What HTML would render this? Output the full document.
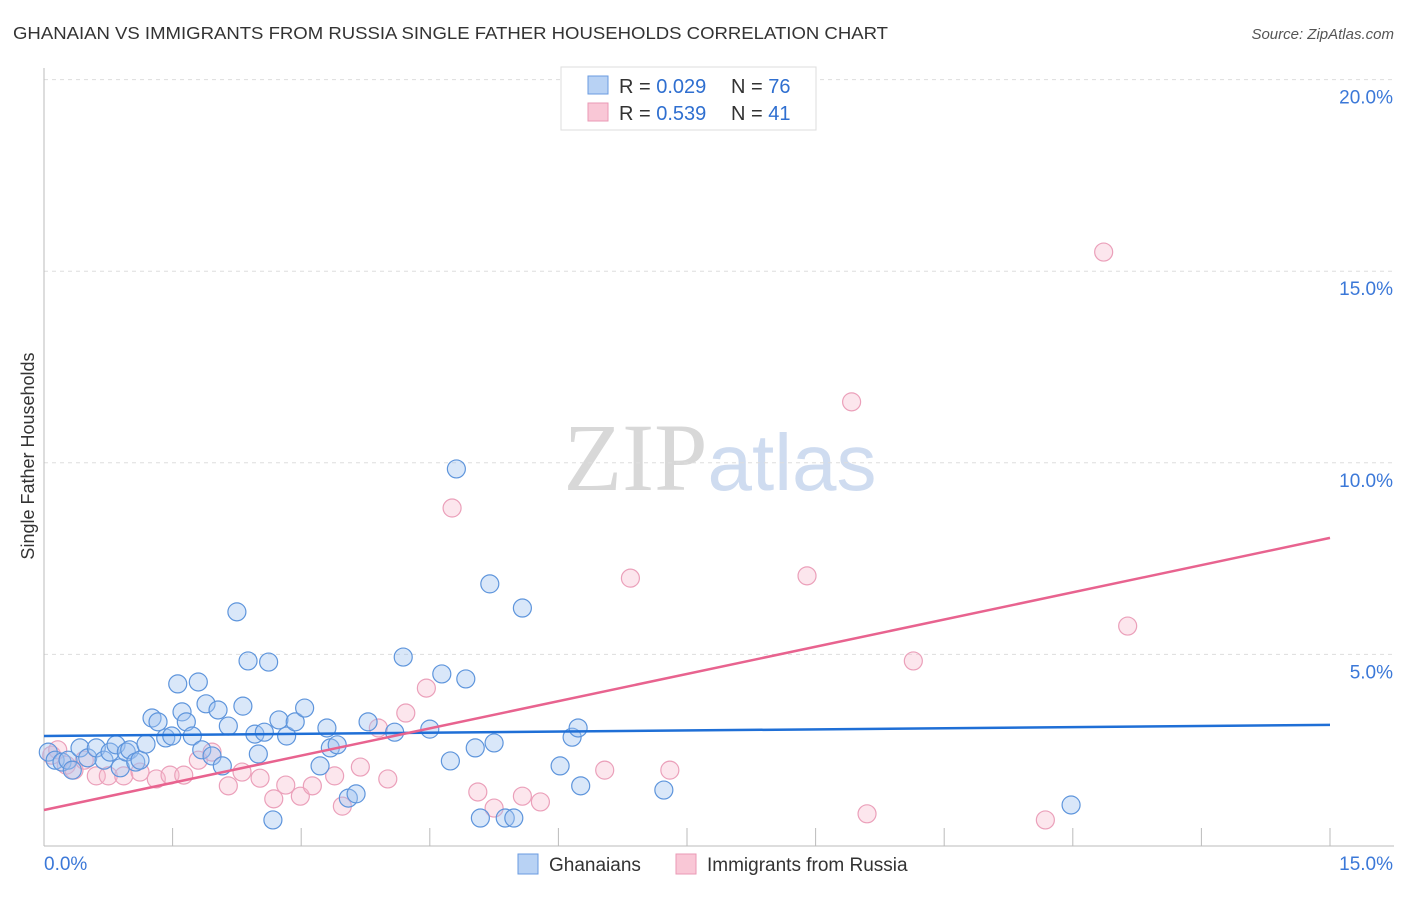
<!DOCTYPE html>
<html><head><meta charset="utf-8"><style>
body{margin:0;background:#fff;font-family:"Liberation Sans",sans-serif}
svg text{font-family:"Liberation Sans",sans-serif}
</style></head><body>
<svg id="chart" width="1406" height="892" xmlns="http://www.w3.org/2000/svg">
<text x="13" y="39" font-size="17.5" fill="#333" textLength="875" lengthAdjust="spacingAndGlyphs">GHANAIAN VS IMMIGRANTS FROM RUSSIA SINGLE FATHER HOUSEHOLDS CORRELATION CHART</text>
<text x="1394" y="39" font-size="15" fill="#555" text-anchor="end" font-style="italic">Source: ZipAtlas.com</text>
<text x="720" y="490" font-size="96" text-anchor="middle" fill="#ddd"><tspan font-family="Liberation Serif" fill="#d8d8d8">ZIP</tspan><tspan fill="#cfdcf0" font-size="80">atlas</tspan></text>
<text transform="translate(34,456) rotate(-90)" font-size="18" fill="#333" text-anchor="middle">Single Father Households</text>
<g id="grid"></g><g id="axes"></g><g id="pts"></g><g id="lines"></g>
<g>
<rect x="561" y="67" width="255" height="63" fill="#fff" stroke="#ddd"/>
<rect x="588" y="76" width="20" height="18" fill="#b8d2f4" stroke="#6a9be0"/>
<rect x="588" y="103" width="20" height="18" fill="#f9c7d6" stroke="#ea9ab5"/>
<text x="619" y="93" font-size="20" fill="#333">R = <tspan fill="#2f6fd0">0.029</tspan></text>
<text x="731" y="93" font-size="20" fill="#333">N = <tspan fill="#2f6fd0">76</tspan></text>
<text x="619" y="120" font-size="20" fill="#333">R = <tspan fill="#2f6fd0">0.539</tspan></text>
<text x="731" y="120" font-size="20" fill="#333">N = <tspan fill="#2f6fd0">41</tspan></text>
</g>
<g>
<rect x="518" y="854" width="20" height="20" fill="#b8d2f4" stroke="#6a9be0"/>
<text x="549" y="871" font-size="19" fill="#333">Ghanaians</text>
<rect x="676" y="854" width="20" height="20" fill="#f9c7d6" stroke="#ea9ab5"/>
<text x="707" y="871" font-size="19" fill="#333">Immigrants from Russia</text>
</g>
</svg>
<script>
const xTicks=[0,15];
const yTicks=[5,10,15,20];
const blueX=[0.05,0.13,0.21,0.28,0.33,0.42,0.51,0.61,0.70,0.77,0.84,0.89,0.96,1.00,1.07,1.12,1.19,1.26,1.33,1.42,1.49,1.56,1.61,1.66,1.73,1.80,1.84,1.89,1.96,2.03,2.08,2.15,2.25,2.32,2.38,2.46,2.50,2.57,2.62,2.67,2.74,2.83,2.93,3.04,3.22,3.30,3.34,3.42,3.55,3.64,3.78,4.09,4.19,4.50,4.64,4.74,4.81,4.92,5.03,5.09,5.20,5.25,5.38,5.48,5.58,6.02,6.16,6.23,6.26,7.23,11.98];
const blueY=[2.45,2.24,2.19,2.24,1.98,2.56,2.30,2.56,2.24,2.45,2.64,2.04,2.45,2.51,2.19,2.24,2.66,3.34,3.24,2.82,2.87,4.23,3.50,3.24,2.87,4.28,2.51,3.71,2.35,3.55,2.09,3.13,6.11,3.65,4.83,2.92,2.40,2.97,4.80,0.68,3.29,2.87,3.24,3.60,2.09,3.08,2.56,2.64,1.25,1.36,3.24,2.97,4.93,3.05,4.49,2.22,9.84,4.36,2.56,0.73,6.84,2.69,0.73,0.73,6.21,2.09,2.84,3.08,1.57,1.46,1.07];
const pinkX=[0.09,0.16,0.26,0.35,0.47,0.61,0.75,0.93,1.12,1.31,1.47,1.63,1.80,1.96,2.15,2.31,2.52,2.68,2.82,2.99,3.13,3.39,3.48,3.69,3.90,4.01,4.22,4.46,4.76,5.06,5.25,5.58,5.79,6.54,6.84,7.30,8.90,9.42,9.60,10.14,11.68,12.36,12.64];
const pinkY=[2.37,2.51,2.11,1.98,2.24,1.83,1.83,1.83,1.93,1.75,1.85,1.85,2.24,2.45,1.57,1.93,1.77,1.23,1.59,1.30,1.57,1.83,1.04,2.06,3.08,1.75,3.47,4.12,8.82,1.41,0.99,1.30,1.15,1.98,6.99,1.98,7.05,11.59,0.84,4.83,0.68,15.50,5.74];
const blueTrend=[2.87,3.16];
const pinkTrend=[0.94,8.04];
const NS="http://www.w3.org/2000/svg";
const X=v=>44+v/15*1286;
const Y=v=>846-v/5*191.6;
function mk(tag,attrs,parent){const e=document.createElementNS(NS,tag);for(const k in attrs)e.setAttribute(k,attrs[k]);document.getElementById(parent).appendChild(e);return e;}
yTicks.forEach(t=>{
 const l=mk('line',{x1:44,x2:1394,y1:Y(t),y2:Y(t),stroke:'#ddd','stroke-dasharray':'4,4'},'grid');
 
 
 const tx=mk('text',{x:1393,y:Y(t)+24,'font-size':19,fill:'#3b78d8','text-anchor':'end'},'grid');
 tx.textContent=t.toFixed(1)+'%';
 
 
});
const ax=mk('line',{x1:44,x2:44,y1:68,y2:846,stroke:'#bbb'},'axes');


const bx=mk('line',{x1:44,x2:1394,y1:846,y2:846,stroke:'#bbb'},'axes');


for(let i=0;i<=10;i++){const t=mk('line',{x1:X(i*1.5),x2:X(i*1.5),y1:828,y2:846,stroke:'#bbb'},'axes');
 
 }
xTicks.forEach((t,i)=>{const tx=mk('text',{x:i?1393:44,y:870,'font-size':19,fill:'#3b78d8','text-anchor':i?'end':'start'},'axes');
 tx.textContent=t.toFixed(1)+'%';
 
 });
pinkX.forEach((v,i)=>{const c=mk('circle',{cx:X(v),cy:Y(pinkY[i]),r:9,fill:'rgba(246,182,202,0.35)',stroke:'#eba0ba','stroke-width':1.2},'pts');
 
 });
blueX.forEach((v,i)=>{const c=mk('circle',{cx:X(v),cy:Y(blueY[i]),r:9,fill:'rgba(160,196,240,0.4)',stroke:'#5e95dc','stroke-width':1.2},'pts');
 
 });
const bl=mk('line',{x1:X(0),x2:X(15),y1:Y(blueTrend[0]),y2:Y(blueTrend[1]),stroke:'#1f6fd6','stroke-width':2.5},'lines');


const pl=mk('line',{x1:X(0),x2:X(15),y1:Y(pinkTrend[0]),y2:Y(pinkTrend[1]),stroke:'#e8638f','stroke-width':2.5},'lines');


</script>
</body></html>
